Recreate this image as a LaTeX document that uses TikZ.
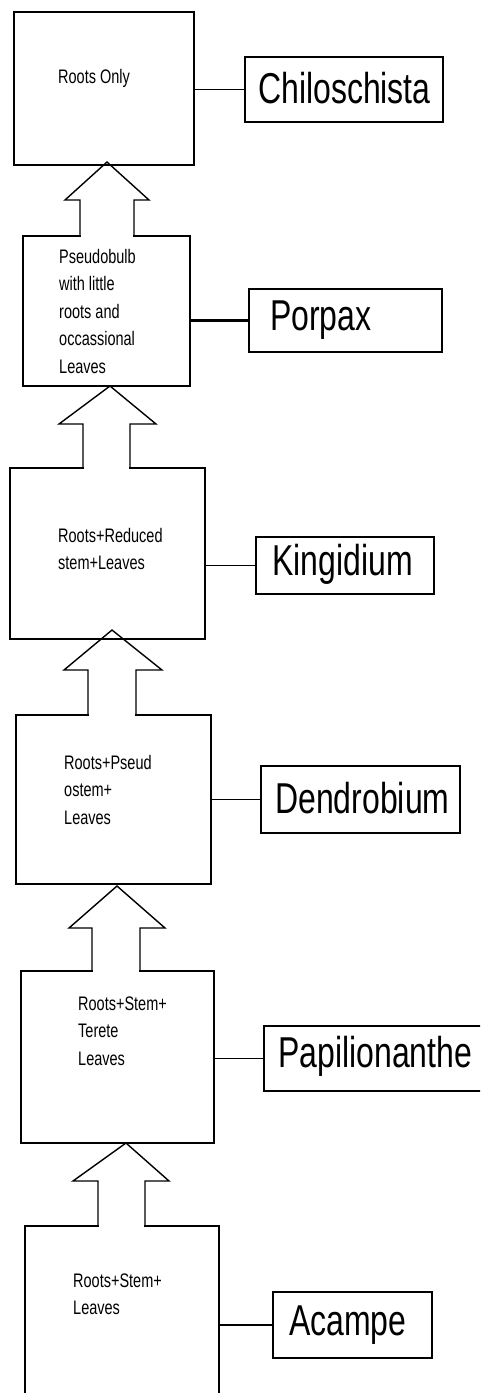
\documentclass[tikz,border=0pt]{standalone}
\usepackage{graphicx}
\usepackage{fontspec}
\setmainfont{Liberation Sans}

% Tall, narrow lettering used throughout the chart
\newcommand\stagetext[1]{\scalebox{1}[1.35]{\fontsize{14.5}{20.4}\selectfont\begin{tabular}[t]{@{}l@{}}#1\end{tabular}}}
\newcommand\genustext[1]{\scalebox{1}[1.35]{\fontsize{32}{36}\selectfont #1}}

% Hollow upward block arrow: tip x, tip y, head base y, head left, head right,
% shaft left, shaft right, shaft foot y (opens into the box below)
\newcommand\risearrow[8]{%
  \draw[white, line width=3pt] ({#6+1.2},#8) -- ({#7-1.2},#8);
  \draw[blockarrow] (#6,#8) -- (#6,#3) -- (#4,#3) -- (#1,#2) -- (#5,#3) -- (#7,#3) -- (#7,#8);
}

\begin{document}
\begin{tikzpicture}[x=1pt, y=-1pt,
  stagebox/.style={draw, line width=1.4pt, inner sep=0pt, outer sep=0pt},
  genusbox/.style={draw, line width=1.6pt, inner sep=0pt, outer sep=0pt},
  stagelabel/.style={anchor=base west, inner sep=0pt},
  genuslabel/.style={anchor=base west, inner sep=0pt},
  link/.style={line width=1.5pt},
  blockarrow/.style={line width=1.4pt, line join=miter}]
\useasboundingbox (0,0) rectangle (480,1393);
\clip (0,0) rectangle (480,1393);

% growth-form boxes, top to bottom
\node[stagebox, minimum width=180, minimum height=153] (s1) at (104,88.5) {};
\node[stagebox, minimum width=167, minimum height=150] (s2) at (106.5,311) {};
\node[stagebox, minimum width=195, minimum height=171] (s3) at (107.5,553.5) {};
\node[stagebox, minimum width=195, minimum height=169] (s4) at (113.5,799.5) {};
\node[stagebox, minimum width=193, minimum height=172] (s5) at (117.5,1057) {};
\node[stagebox, minimum width=194, minimum height=194] (s6) at (122,1323) {};

% their descriptions
\node[stagelabel] (t1) at (58,83) {\stagetext{Roots Only}};
\node[stagelabel] (t2) at (59,263) {\stagetext{Pseudobulb\\with little\\roots and\\occassional\\Leaves}};
\node[stagelabel] (t3) at (58,542) {\stagetext{Roots+Reduced\\stem+Leaves}};
\node[stagelabel] (t4) at (64,769) {\stagetext{Roots+Pseud\\ostem+\\Leaves}};
\node[stagelabel] (t5) at (78,1010) {\stagetext{Roots+Stem+\\Terete\\Leaves}};
\node[stagelabel] (t6) at (73,1287) {\stagetext{Roots+Stem+\\Leaves}};

% genus boxes
\node[genusbox, minimum width=198, minimum height=65] (g1) at (344,89.5) {};
\node[genusbox, minimum width=193, minimum height=63] (g2) at (345.5,320.5) {};
\node[genusbox, minimum width=178, minimum height=57] (g3) at (345,565.5) {};
\node[genusbox, minimum width=199, minimum height=67] (g4) at (360.5,799.5) {};
\node[genusbox, minimum width=226, minimum height=65] (g5) at (377,1058.5) {};
\node[genusbox, minimum width=159, minimum height=66] (g6) at (352.5,1325) {};

\node[genuslabel] (n1) at (258,103) {\genustext{Chiloschista}};
\node[genuslabel] (n2) at (270,330) {\genustext{Porpax}};
\node[genuslabel] (n3) at (272,575) {\genustext{Kingidium}};
\node[genuslabel] (n4) at (275,813) {\genustext{Dendrobium}};
\node[genuslabel] (n5) at (278,1067) {\genustext{Papilionanthe}};
\node[genuslabel] (n6) at (289,1335) {\genustext{Acampe}};

% links from each growth form to its genus
\draw[link] (g1.west -| s1.east) -- (g1.west);
\draw[link, line width=2.5pt] (g2.west -| s2.east) -- (g2.west);
\draw[link] (g3.west -| s3.east) -- (g3.west);
\draw[link] (g4.west -| s4.east) -- (g4.west);
\draw[link] (g5.west -| s5.east) -- (g5.west);
\draw[link] (g6.west -| s6.east) -- (g6.west);

% upward block arrows between successive growth forms
\risearrow{107}{162}{200}{65}{149}{80}{134}{236}
\risearrow{110}{386}{424}{59}{156}{83}{130}{468}
\risearrow{112}{630}{670}{64}{162}{88}{136}{715}
\risearrow{117}{886}{928}{69}{165}{92}{140}{971}
\risearrow{126}{1143}{1181}{73}{169}{98}{145}{1226}
\end{tikzpicture}
\end{document}
